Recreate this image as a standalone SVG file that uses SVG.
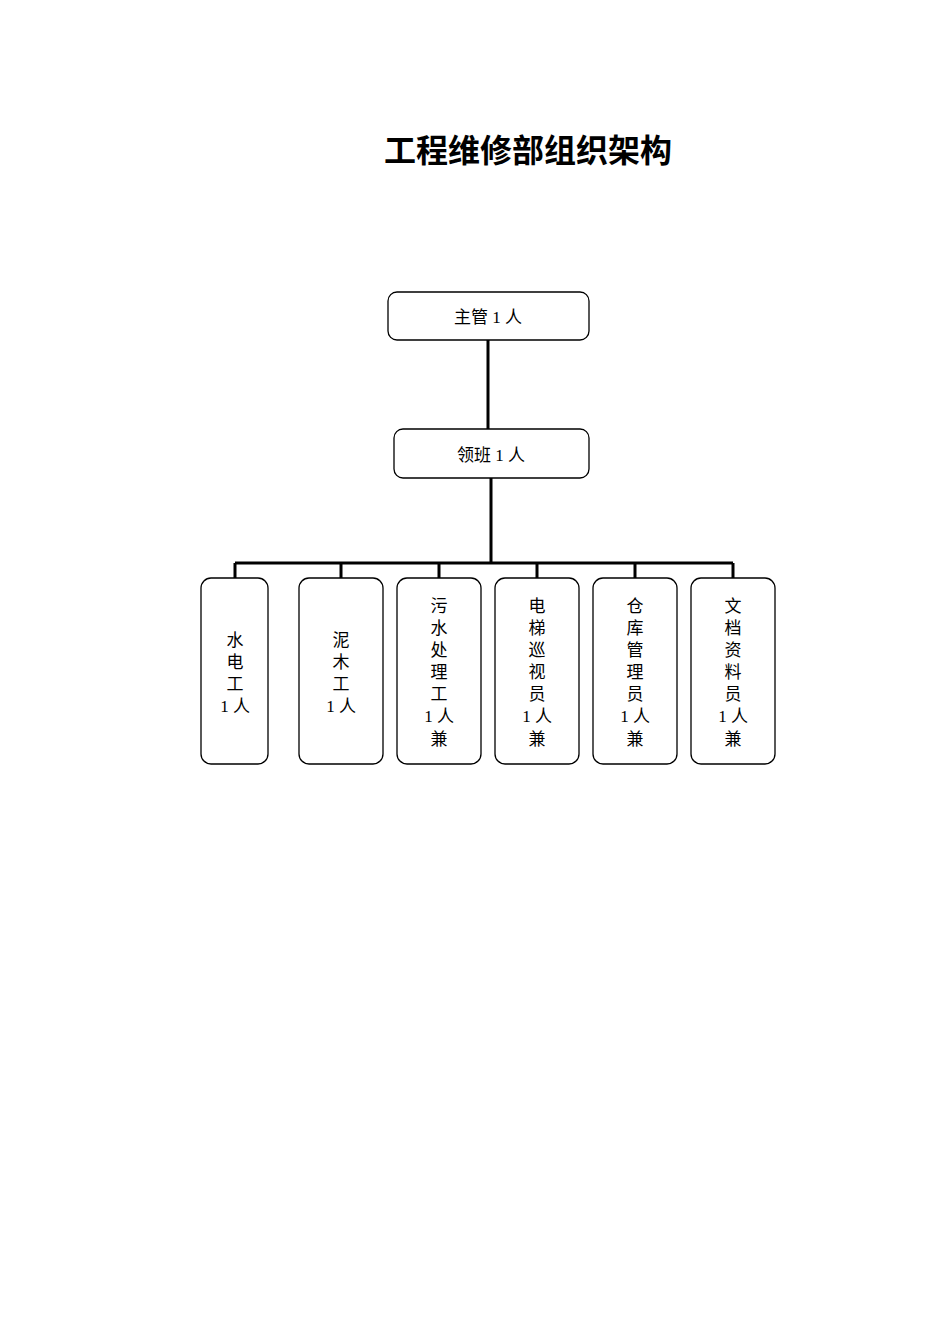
<svg xmlns="http://www.w3.org/2000/svg" width="950" height="1344" viewBox="0 0 950 1344">
<style>
.b{fill:#fff;stroke:#000;stroke-width:1.3}
.t{font-family:"Liberation Serif","Noto Sans CJK SC",serif;font-size:17px;text-anchor:middle;fill:#000}
.c{stroke:#000;stroke-width:3;fill:none}
</style>
<rect width="950" height="1344" fill="#fff"/>
<text x="528" y="162" style="font-family:'Noto Sans CJK SC',sans-serif;font-size:32px;font-weight:bold;text-anchor:middle">工程维修部组织架构</text>
<g id="connectors">
<path class="c" d="M488 340V429M491 478V563M235 563H733M235 563V578M341 563V578M439 563V578M537 563V578M635 563V578M733 563V578"/>
</g>
<g id="n1"><rect class="b" x="388" y="292" width="201" height="48" rx="9"/><text class="t" x="488" y="323">主管 1 人</text></g>
<g id="n2"><rect class="b" x="394" y="429" width="195" height="49" rx="9"/><text class="t" x="491" y="461">领班 1 人</text></g>
<g id="n3"><rect class="b" x="201" y="578" width="67" height="186" rx="10"/><text class="t" x="235"><tspan x="235" y="646">水</tspan><tspan x="235" y="668">电</tspan><tspan x="235" y="690">工</tspan><tspan x="235" y="712">1 人</tspan></text></g>
<g id="n4"><rect class="b" x="299" y="578" width="84" height="186" rx="10"/><text class="t"><tspan x="341" y="646">泥</tspan><tspan x="341" y="668">木</tspan><tspan x="341" y="690">工</tspan><tspan x="341" y="712">1 人</tspan></text></g>
<g id="n5"><rect class="b" x="397" y="578" width="84" height="186" rx="10"/><text class="t"><tspan x="439" y="612">污</tspan><tspan x="439" y="634">水</tspan><tspan x="439" y="656">处</tspan><tspan x="439" y="678">理</tspan><tspan x="439" y="700">工</tspan><tspan x="439" y="722">1 人</tspan><tspan x="439" y="745">兼</tspan></text></g>
<g id="n6"><rect class="b" x="495" y="578" width="84" height="186" rx="10"/><text class="t"><tspan x="537" y="612">电</tspan><tspan x="537" y="634">梯</tspan><tspan x="537" y="656">巡</tspan><tspan x="537" y="678">视</tspan><tspan x="537" y="700">员</tspan><tspan x="537" y="722">1 人</tspan><tspan x="537" y="745">兼</tspan></text></g>
<g id="n7"><rect class="b" x="593" y="578" width="84" height="186" rx="10"/><text class="t"><tspan x="635" y="612">仓</tspan><tspan x="635" y="634">库</tspan><tspan x="635" y="656">管</tspan><tspan x="635" y="678">理</tspan><tspan x="635" y="700">员</tspan><tspan x="635" y="722">1 人</tspan><tspan x="635" y="745">兼</tspan></text></g>
<g id="n8"><rect class="b" x="691" y="578" width="84" height="186" rx="10"/><text class="t"><tspan x="733" y="612">文</tspan><tspan x="733" y="634">档</tspan><tspan x="733" y="656">资</tspan><tspan x="733" y="678">料</tspan><tspan x="733" y="700">员</tspan><tspan x="733" y="722">1 人</tspan><tspan x="733" y="745">兼</tspan></text></g>
</svg>
